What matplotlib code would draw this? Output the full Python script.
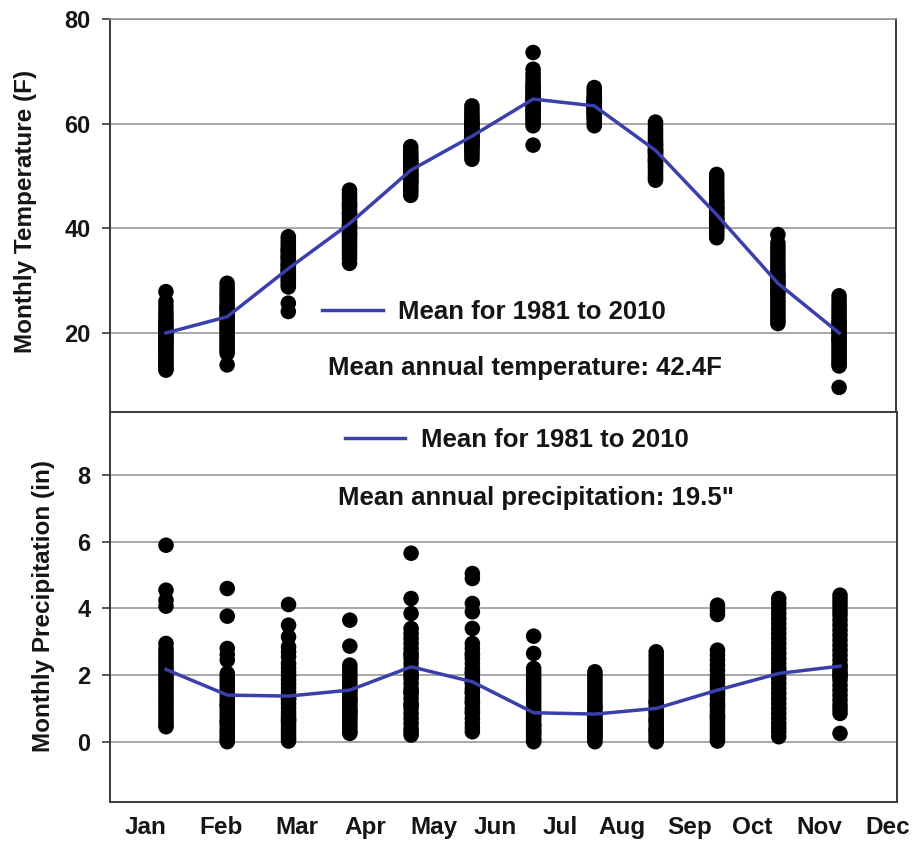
import matplotlib
matplotlib.use("Agg")
import matplotlib.pyplot as plt

plt.rcParams["font.family"] = ["Liberation Sans", "DejaVu Sans"]
plt.rcParams["font.weight"] = "bold"
plt.rcParams["axes.labelweight"] = "bold"

months = ["Jan", "Feb", "Mar", "Apr", "May", "Jun",
          "Jul", "Aug", "Sep", "Oct", "Nov", "Dec"]

# Monthly mean temperature (F), 1981-2010
temp_mean = [20.0, 23.1, 32.3, 40.9, 51.1, 57.6, 64.7, 63.4, 54.9, 42.6, 29.5, 20.0]

# Individual monthly mean temperatures for each year (F)
temp_jan = [27.9, 26.0, 25.1, 24.3, 23.6, 23.0, 22.4, 21.9, 21.5, 21.0, 20.6, 20.2, 19.9, 19.5, 19.1,
            18.8, 18.4, 18.0, 17.6, 17.2, 16.8, 16.3, 15.9, 15.4, 14.9, 14.5, 14.0, 13.6, 13.2, 12.9]
temp_feb = [29.5, 28.7, 28.0, 27.4, 26.8, 26.1, 25.5, 25.0, 24.4, 23.9, 23.4, 23.0, 22.5, 22.0, 21.6,
            21.1, 20.7, 20.2, 19.7, 19.3, 18.8, 18.4, 17.9, 17.5, 17.0, 16.6, 16.1, 24.7, 22.8, 13.9]
temp_mar = [38.4, 37.9, 37.3, 36.8, 36.3, 35.9, 35.4, 35.0, 34.6, 34.1, 33.7, 33.3, 32.9, 32.5, 32.1,
            31.7, 31.3, 30.9, 30.5, 30.1, 29.7, 29.2, 28.8, 33.0, 34.4, 31.0, 35.7, 32.0, 25.7, 24.1]
temp_apr = [47.3, 46.6, 46.0, 45.4, 44.8, 44.2, 43.7, 43.1, 42.6, 42.1, 41.6, 41.1, 40.6, 40.1, 39.6,
            39.1, 38.6, 38.1, 37.6, 37.1, 36.6, 36.0, 35.4, 34.8, 34.2, 33.3, 42.9, 40.4, 44.5, 38.9]
temp_may = [55.6, 55.0, 54.5, 54.1, 53.7, 53.3, 52.9, 52.5, 52.2, 51.9, 51.6, 51.3, 51.0, 50.7, 50.4,
            50.1, 49.8, 49.5, 49.2, 48.9, 48.5, 48.1, 47.7, 47.3, 46.8, 46.3, 52.0, 50.2, 53.0, 49.0]
temp_jun = [63.4, 62.8, 62.2, 61.7, 61.2, 60.8, 60.4, 60.0, 59.6, 59.2, 58.9, 58.5, 58.2, 57.8, 57.5,
            57.1, 56.8, 56.4, 56.0, 55.6, 55.2, 54.8, 54.3, 53.8, 53.2, 57.6, 58.7, 56.6, 59.9, 55.9]
temp_jul = [73.6, 70.4, 69.5, 68.8, 68.1, 67.5, 66.9, 66.4, 65.9, 65.4, 65.0, 64.6, 64.2, 63.8, 63.4,
            63.0, 62.6, 62.2, 61.8, 61.4, 61.0, 60.6, 60.1, 59.6, 64.8, 66.2, 63.6, 67.2, 62.4, 55.9]
temp_aug = [66.9, 66.4, 66.0, 65.6, 65.2, 64.9, 64.6, 64.3, 64.0, 63.7, 63.4, 63.1, 62.8, 62.5, 62.2,
            61.9, 61.6, 61.3, 61.0, 60.6, 60.1, 59.6, 63.5, 64.1, 62.9, 63.2, 62.6, 63.9, 64.7, 61.8]
temp_sep = [60.3, 59.7, 59.1, 58.6, 58.1, 57.6, 57.1, 56.7, 56.3, 55.9, 55.5, 55.1, 54.7, 54.3, 53.9,
            53.5, 53.1, 52.7, 52.3, 51.9, 51.5, 51.0, 50.5, 50.0, 49.6, 49.2, 55.0, 54.5, 56.0, 53.0]
temp_oct = [50.3, 49.7, 49.1, 48.5, 47.9, 47.3, 46.8, 46.3, 45.8, 45.3, 44.8, 44.3, 43.8, 43.4, 43.0,
            42.6, 42.2, 41.8, 41.4, 41.0, 40.6, 40.2, 39.7, 39.2, 38.7, 38.2, 42.9, 44.0, 41.6, 45.1]
temp_nov = [38.8, 37.2, 36.5, 35.8, 35.1, 34.4, 33.7, 33.0, 32.4, 31.8, 31.2, 30.6, 30.0, 29.4, 28.8,
            28.2, 27.6, 27.0, 26.4, 25.8, 25.2, 24.6, 24.0, 23.4, 22.8, 22.3, 21.8, 29.7, 31.0, 27.9]
temp_dec = [27.1, 26.4, 25.7, 25.0, 24.4, 23.8, 23.2, 22.6, 22.0, 21.5, 21.0, 20.5, 20.0, 19.5, 19.0,
            18.5, 18.0, 17.5, 17.0, 16.5, 16.0, 15.5, 15.0, 14.5, 14.1, 13.7, 20.3, 21.8, 18.8, 9.6]

# Monthly mean precipitation (in), 1981-2010
prcp_mean = [2.17, 1.40, 1.37, 1.55, 2.25, 1.80, 0.87, 0.83, 1.00, 1.55, 2.05, 2.27]

# Individual monthly precipitation totals for each year (in)
prcp_jan = [5.9, 4.55, 4.25, 4.07, 2.95, 2.8, 2.7, 2.6, 2.5, 2.4, 2.3, 2.2, 2.1, 2.0, 1.9,
            1.8, 1.7, 1.6, 1.5, 1.4, 1.3, 1.2, 1.1, 1.0, 0.9, 0.8, 0.7, 0.6, 0.5, 0.45]
prcp_feb = [4.6, 3.77, 2.8, 2.62, 2.45, 2.05, 1.95, 1.85, 1.75, 1.65, 1.55, 1.45, 1.35, 1.25, 1.15,
            1.05, 0.95, 0.85, 0.75, 0.65, 0.55, 0.45, 0.35, 0.28, 0.2, 0.12, 0.05, 0.0, 1.1, 0.6]
prcp_mar = [4.12, 3.5, 3.15, 2.85, 2.7, 2.55, 2.35, 2.22, 2.1, 1.98, 1.86, 1.74, 1.62, 1.5, 1.38,
            1.26, 1.14, 1.02, 0.9, 0.8, 0.7, 0.6, 0.5, 0.4, 0.3, 0.2, 0.1, 0.02, 1.3, 0.65]
prcp_apr = [3.65, 2.87, 2.3, 2.2, 2.1, 2.0, 1.9, 1.8, 1.7, 1.6, 1.5, 1.42, 1.34, 1.26, 1.18,
            1.1, 1.02, 0.94, 0.86, 0.78, 0.7, 0.62, 0.54, 0.46, 0.38, 0.3, 0.25, 1.55, 1.25, 0.9]
prcp_may = [5.66, 4.3, 3.85, 3.4, 3.25, 3.1, 2.95, 2.8, 2.65, 2.5, 2.35, 2.2, 2.05, 1.9, 1.75,
            1.6, 1.45, 1.3, 1.15, 1.0, 0.85, 0.7, 0.55, 0.4, 0.3, 0.2, 2.0, 1.5, 2.6, 1.1]
prcp_jun = [5.05, 4.9, 4.15, 3.9, 3.4, 2.95, 2.8, 2.65, 2.5, 2.35, 2.2, 2.05, 1.9, 1.75, 1.6,
            1.45, 1.3, 1.15, 1.0, 0.85, 0.7, 0.55, 0.42, 0.3, 1.8, 2.1, 1.2, 0.9, 2.6, 1.5]
prcp_jul = [3.17, 2.65, 2.2, 2.1, 2.0, 1.9, 1.8, 1.7, 1.6, 1.5, 1.4, 1.3, 1.2, 1.1, 1.0,
            0.9, 0.8, 0.7, 0.6, 0.5, 0.42, 0.34, 0.26, 0.18, 0.1, 0.04, 0.0, 0.8, 0.5, 0.3]
prcp_aug = [2.1, 2.0, 1.9, 1.8, 1.7, 1.6, 1.5, 1.4, 1.3, 1.2, 1.1, 1.0, 0.9, 0.8, 0.72,
            0.64, 0.56, 0.48, 0.4, 0.32, 0.24, 0.16, 0.08, 0.0, 0.85, 0.6, 0.35, 1.05, 0.2, 0.5]
prcp_sep = [2.7, 2.58, 2.46, 2.34, 2.22, 2.1, 1.98, 1.86, 1.74, 1.62, 1.5, 1.38, 1.26, 1.14, 1.02,
            0.9, 0.8, 0.7, 0.6, 0.5, 0.4, 0.3, 0.22, 0.14, 0.06, 0.0, 0.95, 0.65, 0.35, 1.2]
prcp_oct = [4.1, 3.95, 3.82, 2.75, 2.6, 2.45, 2.3, 2.15, 2.0, 1.88, 1.76, 1.64, 1.52, 1.4, 1.28,
            1.16, 1.04, 0.92, 0.8, 0.7, 0.6, 0.5, 0.4, 0.3, 0.2, 0.1, 0.02, 1.45, 1.1, 0.75]
prcp_nov = [4.3, 4.15, 4.0, 3.85, 3.7, 3.55, 3.4, 3.25, 3.1, 2.95, 2.8, 2.65, 2.5, 2.35, 2.2,
            2.05, 1.9, 1.75, 1.6, 1.45, 1.3, 1.15, 1.0, 0.85, 0.7, 0.55, 0.42, 0.3, 0.15, 2.1]
prcp_dec = [4.4, 4.28, 4.16, 4.04, 3.92, 3.8, 3.65, 3.5, 3.35, 3.2, 3.05, 2.9, 2.75, 2.6, 2.45,
            2.3, 2.15, 2.0, 1.85, 1.7, 1.55, 1.4, 1.25, 1.1, 0.98, 0.85, 2.25, 2.05, 1.95, 0.25]

temp_years = [temp_jan, temp_feb, temp_mar, temp_apr, temp_may, temp_jun,
              temp_jul, temp_aug, temp_sep, temp_oct, temp_nov, temp_dec]
prcp_years = [prcp_jan, prcp_feb, prcp_mar, prcp_apr, prcp_may, prcp_jun,
              prcp_jul, prcp_aug, prcp_sep, prcp_oct, prcp_nov, prcp_dec]

legend_label = "Mean for 1981 to 2010"
temp_note = "Mean annual temperature: 42.4F"
prcp_note = 'Mean annual precipitation: 19.5"'

# Month label placement along the shared x axis
label_pos = [0.66, 1.90, 3.14, 4.26, 5.37, 6.37, 7.43, 8.44, 9.55, 10.56, 11.67, 12.78]

LINE_BLUE = "#3a3fab"
GRID = "#8f8f8f"
SPINE = "#3a3a3a"
TXT = "#151515"

W, H = 924, 848
fig = plt.figure(figsize=(W / 100, H / 100), dpi=100)


def frac_box(x0, y0, x1, y1):
    return [x0 / W, 1 - y1 / H, (x1 - x0) / W, (y1 - y0) / H]


ax_t = fig.add_axes(frac_box(110, 19, 896, 412))
ax_p = fig.add_axes(frac_box(110, 412, 897, 802))

month_x = list(range(1, 13))


def scatter_columns(ax, columns):
    for x, vals in zip(month_x, columns):
        ax.scatter([x] * len(vals), vals, s=125, color="black",
                   edgecolors="none", zorder=3)


scatter_columns(ax_t, temp_years)
scatter_columns(ax_p, prcp_years)

lt, = ax_t.plot(month_x, temp_mean, color=LINE_BLUE, lw=2.5, zorder=4)
lp, = ax_p.plot(month_x, prcp_mean, color=LINE_BLUE, lw=2.5, zorder=4)

for ax in (ax_t, ax_p):
    ax.set_xlim(0.086, 12.93)
    ax.set_axisbelow(True)
    ax.grid(axis="y", color=GRID, lw=1.1)
    ax.grid(axis="x", visible=False)
    ax.tick_params(axis="y", length=6, width=1.2, color=SPINE, pad=8,
                   labelsize=17, labelcolor=TXT)
    for s in ax.spines.values():
        s.set_color(SPINE)
        s.set_linewidth(1.4)

# Temperature panel
ax_t.set_ylim(4.9, 80)
ax_t.set_yticks([20, 40, 60, 80])
ax_t.set_xticks([])
ax_t.spines["top"].set_color(GRID)
ax_t.spines["top"].set_linewidth(1.1)
ax_t.spines["bottom"].set_visible(False)
ax_t.set_ylabel("Monthly Temperature (F)", fontsize=17.5, fontweight="bold",
                color=TXT, va="center")
ax_t.yaxis.set_label_coords(-0.107, 0.5115)

# Precipitation panel
ax_p.set_ylim(-1.81, 9.9)
ax_p.set_yticks([0, 2, 4, 6, 8])
ax_p.set_xticks(label_pos, months)
ax_p.tick_params(axis="x", length=0, pad=10, labelsize=17.5, labelcolor=TXT)
ax_p.set_ylabel("Monthly Precipitation (in)", fontsize=17.5, fontweight="bold",
                color=TXT, va="center")
ax_p.yaxis.set_label_coords(-0.0851, 0.5026)

# Legends and annual summaries
leg_kw = dict(frameon=False, loc="center left", borderpad=0, borderaxespad=0,
              handlelength=2.35, handletextpad=0.6,
              prop={"size": 18.5, "weight": "bold"})
leg_t = ax_t.legend([lt], [legend_label], bbox_to_anchor=(0.270, 0.2545), **leg_kw)
leg_p = ax_p.legend([lp], [legend_label], bbox_to_anchor=(0.2986, 0.928), **leg_kw)
for leg in (leg_t, leg_p):
    for t in leg.get_texts():
        t.set_color(TXT)

ax_t.text(0.277, 0.112, temp_note, transform=ax_t.transAxes, fontsize=18.5,
          color=TXT, ha="left", va="center")
ax_p.text(0.2897, 0.7795, prcp_note, transform=ax_p.transAxes, fontsize=18.5,
          color=TXT, ha="left", va="center")

fig.savefig("out.png", dpi=100, facecolor="white")
